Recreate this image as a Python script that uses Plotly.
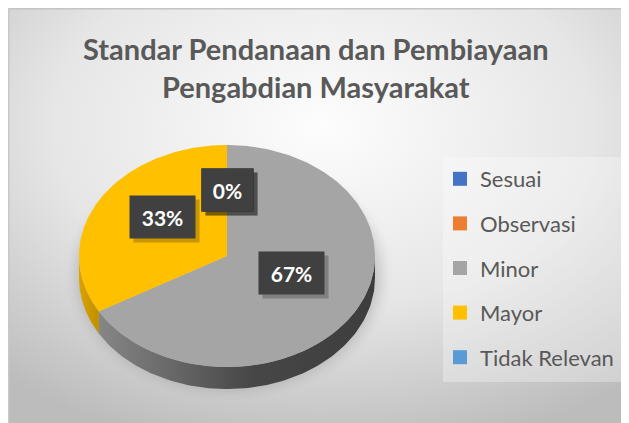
import base64
import numpy as np
import plotly.graph_objects as go

# ---------------- data ----------------
categories = ["Sesuai", "Observasi", "Minor", "Mayor", "Tidak Relevan"]
values = [0, 0, 2, 1, 0]
colors = ["#4472C4", "#ED7D31", "#A5A5A5", "#FFC000", "#5B9BD5"]
side_colors = {
    "Minor": [[0, "#868686"], [0.55, "#474747"], [1, "#3d3d3d"]],
    "Mayor": [[0, "#d9a300"], [1, "#c08f00"]],
}
title_lines = ["Standar Pendanaan dan Pembiayaan", "Pengabdian Masyarakat"]

# ---------------- layout constants ----------------
W, H = 629, 423
OFF = 8  # page body margin: data coords == screen pixels
CX, CY, A, B, D = 227, 256, 148, 111, 22
FONT = "Lato"

fig = go.Figure()

total = sum(values)
starts = np.concatenate([[0], np.cumsum(values)[:-1]]) / total * 360
ends = np.cumsum(values) / total * 360


def ell(theta_deg, dy=0.0):
    t = np.radians(theta_deg)
    return CX + A * np.sin(t), CY - B * np.cos(t) + dy


# side walls (front half: theta 90..270)
for cat, v, t1, t2 in zip(categories, values, starts, ends):
    if v <= 0:
        continue
    s1, s2 = max(t1, 90), min(t2, 270)
    if s2 <= s1:
        continue
    th = np.linspace(s1, s2, 120)
    xt, yt = ell(th)
    xb, yb = ell(th[::-1], D)
    fig.add_trace(go.Scatter(
        x=np.concatenate([xt, xb, xt[:1]]), y=np.concatenate([yt, yb, yt[:1]]),
        fill="toself", mode="lines", line=dict(width=0),
        fillgradient=dict(type="horizontal", colorscale=side_colors[cat]),
        hoverinfo="skip", showlegend=False))

# top faces
for cat, v, t1, t2, c in zip(categories, values, starts, ends, colors):
    if v <= 0:
        continue
    th = np.linspace(t1, t2, 240)
    xt, yt = ell(th)
    fig.add_trace(go.Scatter(
        x=np.concatenate([[CX], xt, [CX]]), y=np.concatenate([[CY], yt, [CY]]),
        fill="toself", mode="lines", line=dict(width=0), fillcolor=c,
        hoverinfo="skip", showlegend=False))

# legend entries
for i, (cat, c) in enumerate(zip(categories, colors)):
    fig.add_trace(go.Scatter(
        x=[None], y=[None], mode="markers", name=cat, legendgroup=f"g{i}",
        marker=dict(symbol="square", size=14, color=c), hoverinfo="skip"))

# data labels
annotations = []
for cat, v, t1, t2 in zip(categories, values, starts, ends):
    mid = (t1 + t2) / 2
    t = np.radians(mid)
    lx = CX + 0.5 * A * np.sin(t)
    ly = CY - 0.5 * B * np.cos(t) - 11
    txt = f"{round(100 * v / total)}%"
    w = 14 * len(txt) + 21
    annotations.append(dict(x=lx + 4, y=ly + 4, text=" ", showarrow=False,
                            width=w, height=40, bgcolor="rgba(0,0,0,0.22)",
                            font=dict(size=21, family=FONT)))
    annotations.append(dict(x=lx, y=ly, text=f"<b>{txt}</b>", showarrow=False,
                            width=w, height=40, bgcolor="#404040",
                            font=dict(size=21, family=FONT, color="white")))

annotations.append(dict(x=316, y=67, yanchor="middle", text="<b>" + "<br>".join(title_lines) + "</b>",
                        showarrow=False, font=dict(size=29, family=FONT, color="#595959")))

# background: radial gradient, soft shadow under the pie, thin top/left border
sx, sy = CX - OFF, CY + D - OFF
svg = ('<svg xmlns="http://www.w3.org/2000/svg" width="629" height="423">'
       '<defs><radialGradient id="g" cx="50%" cy="28%" r="78%">'
       '<stop offset="0" stop-color="#fdfdfd"/><stop offset="0.55" stop-color="#e6e6e6"/>'
       '<stop offset="1" stop-color="#bcbcbc"/></radialGradient>'
       '<filter id="b" x="-20%" y="-20%" width="140%" height="140%"><feGaussianBlur stdDeviation="7"/></filter></defs>'
       '<rect width="629" height="423" fill="url(#g)"/>'
       f'<ellipse cx="{sx + 2}" cy="{sy - 4}" rx="{A + 4}" ry="{B + 4}" fill="black" opacity="0.16" filter="url(#b)"/>'
       '<rect x="0" y="0" width="629" height="1.5" fill="#c4c4c4"/>'
       '<rect x="0" y="0" width="1.5" height="423" fill="#c8c8c8"/>'
       '</svg>')
src = "data:image/svg+xml;base64," + base64.b64encode(svg.encode()).decode()

fig.update_layout(
    width=W, height=H, margin=dict(l=0, r=0, t=0, b=0),
    paper_bgcolor="#d0d0d0", plot_bgcolor="rgba(0,0,0,0)",
    xaxis=dict(range=[OFF, OFF + W], visible=False, fixedrange=True),
    yaxis=dict(range=[OFF + H, OFF], visible=False, fixedrange=True),
    images=[dict(source=src, xref="paper", yref="paper", x=0, y=1,
                 sizex=1, sizey=1, sizing="stretch", layer="below",
                 xanchor="left", yanchor="top")],
    shapes=[dict(type="rect", x0=443, x1=622, y0=157, y1=382, xref="x", yref="y",
                 fillcolor="rgba(255,255,255,0.3)", line=dict(width=0), layer="below")],
    annotations=annotations,
    legend=dict(x=(440 - OFF) / W, y=1 - (158 - OFF) / H, xanchor="left", yanchor="top",
                bgcolor="rgba(0,0,0,0)", font=dict(size=22, family=FONT, color="#595959"),
                tracegroupgap=13, itemsizing="trace"),
    showlegend=True,
)

fig.write_html("out.html", post_script="document.body.style.overflow='hidden';")
